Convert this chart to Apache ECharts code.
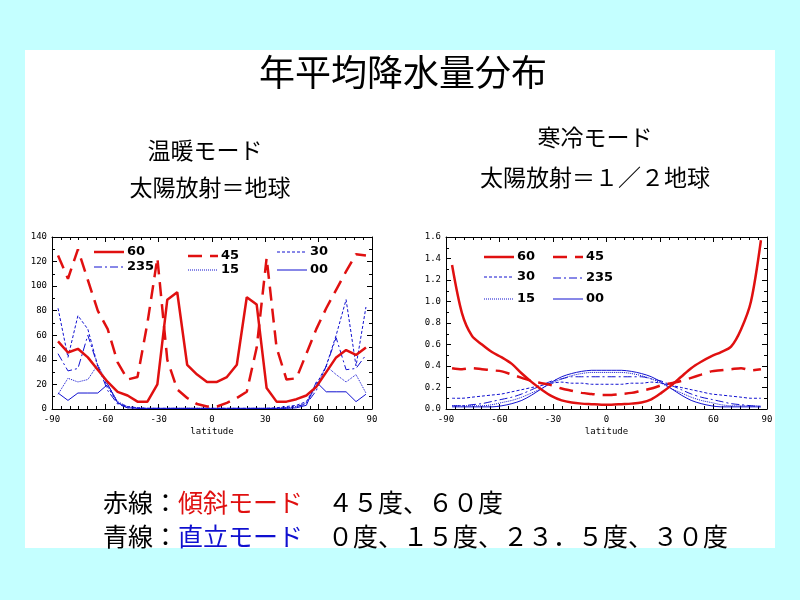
<!DOCTYPE html>
<html><head><meta charset="utf-8">
<script src="https://cdn.jsdelivr.net/npm/echarts@6/dist/echarts.min.js"></script>
<style>html,body{margin:0;background:#c4ffff}#myChart{width:800px;height:600px}</style>
</head><body><div id="myChart"></div>
<script>
var myChart;

// gaussian-grid latitudes (32)
var lats = [];
for (var i = 0; i < 32; i++) { lats.push(-86.6 + i * 5.587); }

// 温暖モード
var warm = {
    '60':  [55,46,49,42,32,22,14,11,6,6,20,89,95,36,28,22,22,26,36,91,85,17,6,6,8,11,18,30,42,48,44,50],
    '45':  [125,106,130,105,80,65,38,24,26,70,123,40,16,9,4,2,2,5,9,14,50,123,50,24,25,45,65,82,97,112,126,125],
    '30':  [82,42,76,65,35,18,5,2,1,0.5,0.5,0.5,0.5,0.5,0.5,0.5,0.5,0.5,0.5,0.5,0.5,0.5,1,2,3,6,20,35,60,89,35,83],
    '235': [45,31,33,60,35,15,4,1,0.5,0.5,0.5,0.5,0.5,0.5,0.5,0.5,0.5,0.5,0.5,0.5,0.5,0.5,0.5,1,2,4,15,35,58,32,33,44],
    '15':  [12,25,22,24,36,20,6,2,1,0.5,0.5,0.5,0.5,0.5,0.5,0.5,0.5,0.5,0.5,0.5,0.5,0.5,0.5,1,2,5,18,35,28,22,28,13],
    '00':  [13,7,13,13,13,20,5,1,0.5,0.5,0.5,0.5,0.5,0.5,0.5,0.5,0.5,0.5,0.5,0.5,0.5,0.5,0.5,0.5,1,3,22,14,14,14,6,12]
};

function sym(h, tail) {
    var a = h.slice();
    var b = h.slice().reverse();
    if (tail) { for (var k = 0; k < tail.length; k++) b[b.length - 1 - k] = tail[k]; }
    return a.concat(b);
}

// 寒冷モード
var cold = {
    '60':  [1.34,0.89,0.68,0.6,0.53,0.48,0.42,0.33,0.25,0.18,0.12,0.08,0.06,0.05,0.045,0.04,
            0.04,0.045,0.05,0.06,0.09,0.15,0.22,0.30,0.38,0.44,0.49,0.53,0.58,0.74,1.0,1.57],
    '45':  sym([0.38,0.37,0.38,0.37,0.36,0.35,0.32,0.29,0.26,0.24,0.22,0.19,0.17,0.15,0.14,0.13], [0.37,0.36]),
    '30':  sym([0.10,0.10,0.11,0.12,0.13,0.14,0.16,0.18,0.20,0.22,0.24,0.25,0.24,0.24,0.23,0.23]),
    '235': sym([0.03,0.03,0.04,0.05,0.07,0.09,0.11,0.14,0.18,0.22,0.26,0.28,0.30,0.30,0.30,0.30], [0.02]),
    '15':  sym([0.03,0.03,0.03,0.03,0.04,0.06,0.08,0.11,0.15,0.19,0.24,0.28,0.31,0.33,0.34,0.34]),
    '00':  sym([0.02,0.02,0.02,0.02,0.02,0.03,0.05,0.08,0.13,0.19,0.25,0.30,0.33,0.35,0.36,0.36])
};

var styles = {
    '60':  {color: '#e01010', width: 2.5, type: 'solid'},
    '45':  {color: '#e01010', width: 2.5, type: [14, 8]},
    '30':  {color: '#1010d0', width: 1, type: [3, 2]},
    '235': {color: '#1010d0', width: 1, type: [8, 3, 2, 3]},
    '15':  {color: '#1010d0', width: 1, type: [1, 1]},
    '00':  {color: '#1010d0', width: 1, type: 'solid'}
};

function pairs(arr) {
    var d = [];
    for (var i = 0; i < arr.length; i++) d.push([lats[i], arr[i]]);
    return d;
}

function makeAxes(gi, max, interval, fmt) {
    var font = {fontSize: 9, color: '#000', fontFamily: 'DejaVu Sans Mono'};
    var line = {onZero: false, lineStyle: {color: '#000', width: 1}};
    var tick = {inside: true, length: 5, lineStyle: {color: '#000'}};
    var minor = {show: true, splitNumber: 6, length: 3, lineStyle: {color: '#000'}};
    var yminor = {show: true, splitNumber: 2, length: 3, lineStyle: {color: '#000'}};
    var mx = [{type: 'value', gridIndex: gi, min: -90, max: 90, interval: 30, axisLine: line, axisTick: tick,
               minorTick: minor, splitLine: {show: false},
               axisLabel: {fontSize: 9, color: '#000', fontFamily: 'DejaVu Sans Mono', margin: 6},
               name: 'latitude', nameLocation: 'middle', nameGap: 18,
               nameTextStyle: {fontSize: 9, color: '#000', fontFamily: 'DejaVu Sans Mono'}},
              {type: 'value', gridIndex: gi, position: 'top', min: -90, max: 90, interval: 30, axisLine: line,
               axisTick: tick, minorTick: minor, splitLine: {show: false}, axisLabel: {show: false}}];
    var my = [{type: 'value', gridIndex: gi, position: 'left', min: 0, max: max, interval: interval, axisLine: line,
               axisTick: tick, minorTick: yminor, splitLine: {show: false},
               axisLabel: {fontSize: 9, color: '#000', fontFamily: 'DejaVu Sans Mono', formatter: fmt, margin: 5}},
              {type: 'value', gridIndex: gi, position: 'right', min: 0, max: max, interval: interval, axisLine: line,
               axisTick: tick, minorTick: yminor, splitLine: {show: false}, axisLabel: {show: false}}];
    return {x: mx, y: my};
}

function legendItems(entries) {
    // entries: [name, x, y] - legend line + label
    var g = [];
    entries.forEach(function (e) {
        var s = styles[e[0]];
        g.push({type: 'line', shape: {x1: e[1], y1: e[2], x2: e[1] + 30, y2: e[2]},
                style: {stroke: s.color, lineWidth: s.width, lineDash: s.type === 'solid' ? null : s.type}});
        g.push({type: 'text', x: e[1] + 33, y: e[2] - 7,
                style: {text: e[0], fontSize: 13, fontWeight: 'bold', fill: '#000', fontFamily: 'DejaVu Sans'}});
    });
    return g;
}

function initChartOptions() {
    var a0 = makeAxes(0, 140, 20, function (v) { return v; });
    var a1 = makeAxes(1, 1.6, 0.2, function (v) { return v.toFixed(1); });
    var series = [];
    ['60', '45', '30', '235', '15', '00'].forEach(function (k) {
        var s = styles[k];
        series.push({type: 'line', name: k, xAxisIndex: 0, yAxisIndex: 0, data: pairs(warm[k]),
                     showSymbol: false, lineStyle: s, z: k === '60' || k === '45' ? 3 : 2});
        series.push({type: 'line', name: k, xAxisIndex: 2, yAxisIndex: 2, data: pairs(cold[k]),
                     showSymbol: false, smooth: 0.3, lineStyle: s, z: k === '60' || k === '45' ? 3 : 2});
    });
    var jp = 'Noto Sans CJK JP';
    function txt(t, x, y, size) {
        return {type: 'text', x: x, y: y, style: {text: t, fontSize: size, fontFamily: jp, fill: '#000', align: 'center', verticalAlign: 'middle'}};
    }
    var graphic = [
        {type: 'rect', shape: {x: 25, y: 50, width: 750, height: 498}, style: {fill: '#fff'}, z: -10},
        txt('年平均降水量分布', 403, 72, 36),
        txt('温暖モード', 205, 150, 23),
        txt('太陽放射＝地球', 210, 187, 23),
        txt('寒冷モード', 595, 137, 23),
        txt('太陽放射＝１／２地球', 595, 177, 23),
        {type: 'text', x: 103, y: 502, style: {
            text: '赤線：{r|傾斜モード}　４５度、６０度', fontSize: 25, fontFamily: jp, fill: '#000', verticalAlign: 'middle',
            rich: {r: {fill: '#e01010', fontSize: 25, fontFamily: jp}}}},
        {type: 'text', x: 103, y: 536, style: {
            text: '青線：{b|直立モード}　０度、１５度、２３．５度、３０度', fontSize: 25, fontFamily: jp, fill: '#000', verticalAlign: 'middle',
            rich: {b: {fill: '#1010d0', fontSize: 25, fontFamily: jp}}}}
    ];
    graphic = graphic.concat(legendItems([['60', 94, 252], ['45', 188, 256], ['30', 277, 252],
                                          ['235', 94, 267], ['15', 188, 270], ['00', 277, 270]]));
    graphic = graphic.concat(legendItems([['60', 484, 257], ['45', 553, 257], ['30', 484, 277],
                                          ['235', 553, 278], ['15', 484, 299], ['00', 553, 299]]));
    return {
        backgroundColor: '#c4ffff',
        animation: false,
        graphic: graphic,
        grid: [{left: 52, top: 237, width: 320, height: 172},
               {left: 446, top: 237, width: 321, height: 172}],
        xAxis: a0.x.concat(a1.x),
        yAxis: a0.y.concat(a1.y),
        series: series
    };
}

function init() {
    myChart = echarts.init(document.getElementById('myChart'));
    myChart.setOption(initChartOptions());
}
init();
</script>
</body></html>
